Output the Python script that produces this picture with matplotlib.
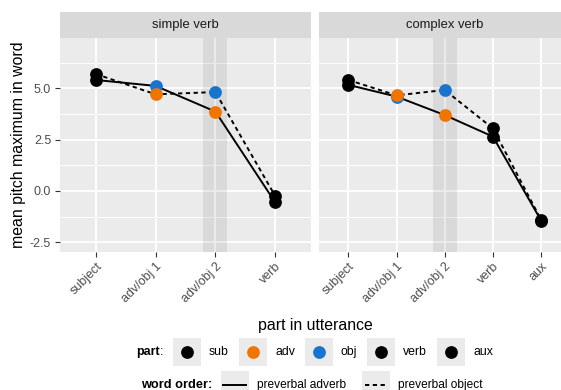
import matplotlib

matplotlib.use("Agg")
from matplotlib import pyplot as plt  # noqa: E402
from matplotlib.patches import Rectangle  # noqa: E402
from matplotlib.lines import Line2D  # noqa: E402

plt.rcParams["font.family"] = ["Liberation Sans", "DejaVu Sans"]

# --- data ------------------------------------------------------------------
simple_cats = ["subject", "adv/obj 1", "adv/obj 2", "verb"]
complex_cats = ["subject", "adv/obj 1", "adv/obj 2", "verb", "aux"]

# preverbal adverb (solid) / preverbal object (dashed)
simple_adv_vals = [5.41, 5.12, 3.87, -0.55]
simple_adv_parts = ["sub", "obj", "adv", "verb"]
simple_obj_vals = [5.70, 4.71, 4.82, -0.24]
simple_obj_parts = ["sub", "adv", "obj", "verb"]

complex_adv_vals = [5.17, 4.60, 3.70, 2.65, -1.44]
complex_adv_parts = ["sub", "obj", "adv", "verb", "aux"]
complex_obj_vals = [5.41, 4.66, 4.92, 3.05, -1.40]
complex_obj_parts = ["sub", "adv", "obj", "verb", "aux"]

part_names = ["sub", "adv", "obj", "verb", "aux"]
part_colors = {"sub": "#000000", "adv": "#EE7600", "obj": "#1874CD",
               "verb": "#000000", "aux": "#000000"}
highlight = "adv/obj 2"

y_ticks = [-2.5, 0.0, 2.5, 5.0]
y_minor = [-1.25, 1.25, 3.75, 6.25]
y_lim = (-2.96, 7.47)

# --- style -----------------------------------------------------------------
W, H = 561, 390
PANEL = "#EBEBEB"
STRIP = "#D9D9D9"
TICK_TXT = "#4D4D4D"
MS = 9.2
LW = 1.4
DASH = (0, (2.2, 1.8))


def box(x0, y0, x1, y1):
    return [x0 / W, 1 - y1 / H, (x1 - x0) / W, (y1 - y0) / H]


def fx(x):
    return x / W


def fy(y):
    return 1 - y / H


fig = plt.figure(figsize=(W / 100, H / 100), dpi=100)
fig.patch.set_facecolor("white")

ax1 = fig.add_axes(box(60, 37.7, 311, 251.7))
ax2 = fig.add_axes(box(319.4, 37.7, 570, 251.7))

panels = [
    (ax1, "simple verb", simple_cats,
     [(simple_adv_vals, simple_adv_parts, "-"),
      (simple_obj_vals, simple_obj_parts, DASH)]),
    (ax2, "complex verb", complex_cats,
     [(complex_adv_vals, complex_adv_parts, "-"),
      (complex_obj_vals, complex_obj_parts, DASH)]),
]

for ax, title, cats, series in panels:
    xs = list(range(len(cats)))
    ax.set_facecolor(PANEL)
    for s in ax.spines.values():
        s.set_visible(False)
    ax.set_xlim(-0.6, len(cats) - 0.4)
    ax.set_ylim(*y_lim)
    for y in y_minor:
        ax.axhline(y, color="white", lw=0.65, zorder=0.5)
    for y in y_ticks:
        ax.axhline(y, color="white", lw=1.3, zorder=0.6)
    for x in xs:
        ax.axvline(x, color="white", lw=1.3, zorder=0.6)
    # shaded band behind the second adv/obj slot
    ax.axvline(cats.index(highlight), color="black", alpha=0.075,
               lw=17.3, zorder=0.8)

    for vals, parts, ls in series:
        ax.plot(xs, vals, color="black", lw=LW, linestyle=ls, zorder=2)
    for vals, parts, ls in series:
        for x, v, p in zip(xs, vals, parts):
            ax.plot(x, v, "o", ms=MS, color=part_colors[p], mec="none",
                    zorder=3)

    ax.set_xticks(xs)
    ax.set_xticklabels(cats, rotation=45, ha="right", va="top",
                       rotation_mode="anchor", fontsize=9, color=TICK_TXT)
    ax.tick_params(axis="x", length=3.8, width=0.8, color="#333333", pad=2.5)
    ax.set_yticks(y_ticks)

    ax.add_patch(Rectangle((0, 1), 1, 26 / 214, transform=ax.transAxes,
                           facecolor=STRIP, edgecolor="none", clip_on=False))
    ax.text(0.5, 1 + 13 / 214, title, transform=ax.transAxes, ha="center",
            va="center", fontsize=9.4, color="#1A1A1A")

ax1.set_yticklabels([f"{v:.1f}" for v in y_ticks], fontsize=9,
                    color=TICK_TXT)
ax1.tick_params(axis="y", length=3.8, width=0.8, color="#333333", pad=2.5)
ax2.tick_params(axis="y", left=False, labelleft=False)

fig.text(fx(18.5), fy(144.7), "mean pitch maximum in word", rotation=90,
         ha="center", va="center", fontsize=11.4)
fig.text(fx(315.3), fy(325.7), "part in utterance", ha="center",
         va="center", fontsize=11.4)

# --- legend (drawn by hand, ggplot-style) ----------------------------------
row1 = 352
fig.text(fx(136), fy(row1), "part", ha="left", va="center", fontsize=9,
         fontweight="bold")
fig.text(fx(160), fy(row1), ":", ha="left", va="center", fontsize=9)
key_left = [172.7, 238.8, 304.8, 366.5, 437.2]
label_left = [209, 275, 340.7, 402.7, 473.3]
for kx, lx, p in zip(key_left, label_left, part_names):
    fig.add_artist(Rectangle((fx(kx), fy(row1 + 14)), 28 / W, 28 / H,
                             transform=fig.transFigure, facecolor=PANEL,
                             edgecolor="none"))
    fig.add_artist(Line2D([fx(kx + 14)], [fy(row1)], marker="o", ms=MS,
                          color=part_colors[p], mec="none", linestyle="none",
                          transform=fig.transFigure))
    fig.text(fx(lx), fy(row1), p, ha="left", va="center", fontsize=8.8)

row2 = 384.7
fig.text(fx(140.7), fy(row2), "word order:", ha="left", va="center",
         fontsize=9.2, fontweight="bold")
for kx, lx, ls, lab in [(220.7, 257.3, "-", "preverbal adverb"),
                        (362.3, 398.3, DASH, "preverbal object")]:
    fig.add_artist(Rectangle((fx(kx), fy(row2 + 14)), 28 / W, 28 / H,
                             transform=fig.transFigure, facecolor=PANEL,
                             edgecolor="none"))
    fig.add_artist(Line2D([fx(kx + 2.5), fx(kx + 25.5)], [fy(row2)] * 2,
                          color="black", lw=LW, linestyle=ls,
                          transform=fig.transFigure))
    fig.text(fx(lx), fy(row2), lab, ha="left", va="center", fontsize=8.6)

fig.savefig("out.png", dpi=100, facecolor="white")
